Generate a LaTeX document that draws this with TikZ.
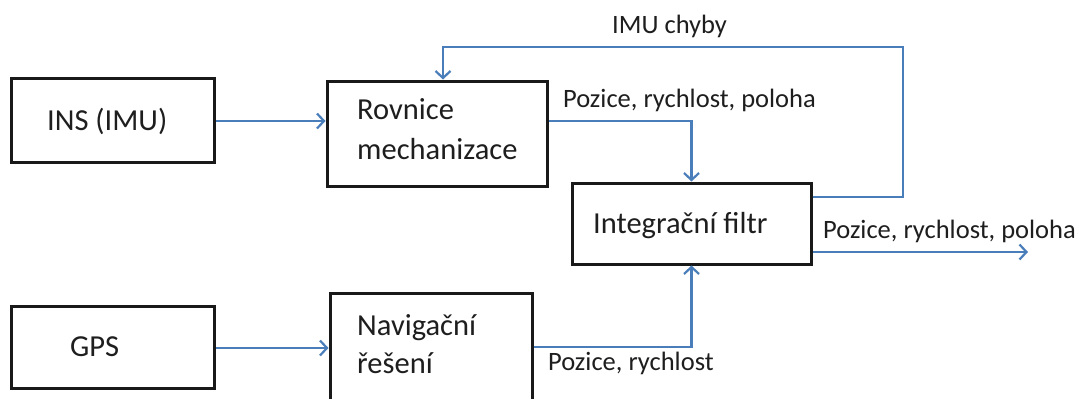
\documentclass[tikz,border=0pt]{standalone}
\usepackage{fontspec}
\setmainfont{Carlito}
\usetikzlibrary{arrows.meta}
\definecolor{lineblue}{RGB}{74,126,187}
\definecolor{txt}{RGB}{30,30,30}
\tikzset{
  box/.style={draw=black!90, line width=3pt, fill=white, inner sep=0pt},
  boxtext/.style={font=\fontsize{30.5}{36}\selectfont, text=txt, anchor=base west, inner sep=0pt},
  lab/.style={font=\fontsize{26.5}{32}\selectfont, text=txt, anchor=base west, inner sep=0pt},
  conn/.style={draw=lineblue, line width=2.2pt, -{Straight Barb[length=7pt,width=15pt]}},
}
\begin{document}
\begin{tikzpicture}[x=1pt,y=-1pt]
\clip (0,0) rectangle (1090,399);
\fill[white] (0,0) rectangle (1090,399);
% boxes
\node[box, minimum width=203pt, minimum height=84pt] (ins) at (112.5,120) {};
\node[box, minimum width=220pt, minimum height=105pt] (rov) at (437,133.5) {};
\node[box, minimum width=239pt, minimum height=81pt] (filt) at (691.5,223.5) {};
\node[box, minimum width=203pt, minimum height=82pt] (gps) at (112.5,347) {};
\node[box, minimum width=202pt, minimum height=112pt] (nav) at (431,349) {};
% box texts
\node[boxtext] (tins) at (47,130) {INS (IMU)};
\node[boxtext] (trov1) at (357,119) {Rovnice};
\node[boxtext] (trov2) at (357,159) {mechanizace};
\node[boxtext] (tfilt) at (593,233) {Integrační filtr};
\node[boxtext] (tgps) at (70,356) {GPS};
\node[boxtext] (tnav1) at (357,335) {Navigační};
\node[boxtext] (tnav2) at (357,373) {řešení};
% labels
\node[lab] (lchyby) at (612,33) {IMU chyby};
\node[lab] (lpos1) at (563,107) {Pozice, rychlost, poloha};
\node[lab] (lpos2) at (823,238) {Pozice, rychlost, poloha};
\node[lab] (lpos3) at (548,370) {Pozice, rychlost};
% coordinates
\coordinate (fbR) at (903,47);
\coordinate (fbL) at (443,47);
\coordinate (out) at (1028,252);
% connectors
\draw[conn] (ins.east |- 0,121) -- (rov.west |- 0,121);
\draw[conn] (gps.east |- 0,348) -- (nav.west |- 0,348);
\draw[conn] (rov.east |- 0,121) -| (filt.north);
\draw[conn] (nav.east |- 0,347) -| (filt.south);
\draw[conn] (filt.east |- 0,197) -| (fbR) -- (fbL) -- (rov.north -| fbL);
\draw[conn] (filt.east |- out) -- (out);
\end{tikzpicture}
\end{document}
